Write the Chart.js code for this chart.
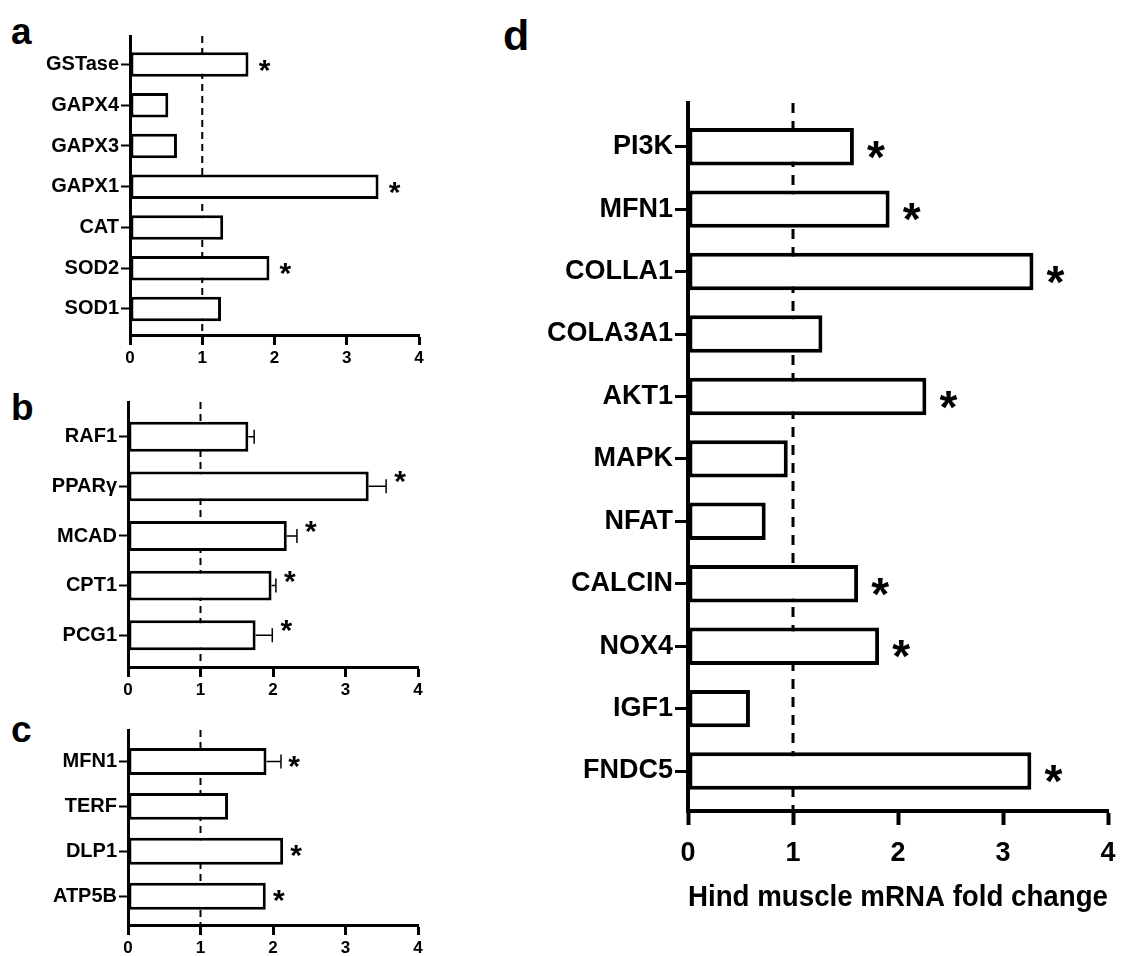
<!DOCTYPE html>
<html><head><meta charset="utf-8">
<script src="https://cdn.jsdelivr.net/npm/chart.js@4.4.1/dist/chart.umd.min.js"></script>
<style>
html,body{margin:0;padding:0;background:#fff;}
body{width:1131px;height:956px;overflow:hidden;position:relative;font-family:"Liberation Sans",Arial,sans-serif;}
canvas{position:absolute;}
.lbl{position:absolute;font-weight:bold;color:#000;line-height:1;font-family:"Liberation Sans",Arial,sans-serif;}
</style></head><body>
<div class="lbl" style="left:11px;top:13px;font-size:37px">a</div>
<div class="lbl" style="left:11px;top:389px;font-size:37px">b</div>
<div class="lbl" style="left:11px;top:711px;font-size:37px">c</div>
<div class="lbl" style="left:503px;top:14px;font-size:43px">d</div>
<canvas id="ca" width="440" height="370" style="left:0;top:0"></canvas>
<canvas id="cb" width="440" height="330" style="left:0;top:370px"></canvas>
<canvas id="cc" width="440" height="256" style="left:0;top:700px"></canvas>
<canvas id="cd" width="591" height="896" style="left:540px;top:60px"></canvas>
<script>
// ---- data ----
const xTicks = [0, 1, 2, 3, 4];
const refLine = 1;

const catsA = ['GSTase', 'GAPX4', 'GAPX3', 'GAPX1', 'CAT', 'SOD2', 'SOD1'];
const valsA = [1.64, 0.53, 0.65, 3.44, 1.29, 1.93, 1.26];
const errA  = [0, 0, 0, 0, 0, 0, 0];
const sigA  = [true, false, false, true, false, true, false];

const catsB = ['RAF1', 'PPARγ', 'MCAD', 'CPT1', 'PCG1'];
const valsB = [1.66, 3.32, 2.19, 1.98, 1.76];
const errB  = [0.08, 0.24, 0.14, 0.06, 0.23];
const sigB  = [false, true, true, true, true];

const catsC = ['MFN1', 'TERF', 'DLP1', 'ATP5B'];
const valsC = [1.91, 1.38, 2.14, 1.90];
const errC  = [0.20, 0, 0, 0];
const sigC  = [true, false, true, true];

const catsD = ['PI3K', 'MFN1', 'COLLA1', 'COLA3A1', 'AKT1', 'MAPK', 'NFAT', 'CALCIN', 'NOX4', 'IGF1', 'FNDC5'];
const valsD = [1.58, 1.92, 3.29, 1.28, 2.27, 0.95, 0.74, 1.62, 1.82, 0.59, 3.27];
const errD  = [0, 0, 0, 0, 0, 0, 0, 0, 0, 0, 0];
const sigD  = [true, true, true, false, true, false, false, true, true, false, true];
const titleD = 'Hind muscle mRNA fold change';

// ---- drawing ----
const FAM = "'Liberation Sans', Arial, sans-serif";

function makeChart(id, cats, vals, errs, sigs, st, xTitle) {
  const extras = {
    id: 'extras',
    beforeDatasetsDraw(chart) {
      const {ctx, chartArea: ca, scales: {x}} = chart;
      const px = x.getPixelForValue(refLine);
      ctx.save();
      ctx.strokeStyle = '#000';
      ctx.lineWidth = st.dashW;
      ctx.setLineDash(st.dash);
      ctx.beginPath();
      ctx.moveTo(px, ca.top);
      ctx.lineTo(px, ca.bottom);
      ctx.stroke();
      ctx.restore();
    },
    afterDatasetsDraw(chart) {
      const {ctx, scales: {x, y}} = chart;
      ctx.save();
      ctx.strokeStyle = '#000';
      ctx.fillStyle = '#000';
      ctx.lineWidth = st.errW;
      cats.forEach((c, i) => {
        const py = y.getPixelForValue(i);
        const e = errs[i] || 0;
        if (e > 0) {
          const x1 = x.getPixelForValue(vals[i]);
          const x2 = x.getPixelForValue(vals[i] + e);
          ctx.beginPath();
          ctx.moveTo(x1, py); ctx.lineTo(x2, py);
          ctx.moveTo(x2, py - st.cap); ctx.lineTo(x2, py + st.cap);
          ctx.stroke();
        }
        if (sigs[i]) {
          const xe = x.getPixelForValue(vals[i] + e);
          ctx.font = 'bold ' + st.starFs + 'px ' + FAM;
          ctx.textAlign = 'center';
          ctx.textBaseline = 'alphabetic';
          ctx.fillText('*', xe + st.starDx, py + 0.57 * st.starFs + st.starDy);
        }
      });
      ctx.restore();
    }
  };
  return new Chart(document.getElementById(id), {
    type: 'bar',
    data: {
      datasets: [{
        data: cats.map((c, i) => ({x: vals[i], y: i})),
        backgroundColor: '#ffffff',
        borderColor: '#000000',
        borderWidth: st.bw,
        borderSkipped: false,
        barPercentage: 0.6,
        categoryPercentage: 1
      }]
    },
    options: {
      indexAxis: 'y',
      responsive: false,
      animation: false,
      devicePixelRatio: 1,
      layout: {padding: {left: 0, top: st.top, right: st.right, bottom: st.bottom}},
      plugins: {legend: {display: false}, tooltip: {enabled: false}},
      scales: {
        x: {
          type: 'linear', min: xTicks[0], max: xTicks[xTicks.length - 1], offset: false,
          afterBuildTicks: s => { s.ticks = xTicks.map(v => ({value: v})); },
          grid: {display: true, offset: false, drawOnChartArea: false, drawTicks: true, tickLength: st.xtl, tickWidth: st.aw, tickColor: '#000'},
          border: {display: true, color: '#000', width: st.aw},
          ticks: {color: '#000', font: {family: FAM, weight: 'bold', size: st.xfs}, padding: st.xpad, maxRotation: 0, autoSkip: false},
          title: xTitle ? {display: true, text: xTitle, color: '#000', font: {family: FAM, weight: 'bold', size: st.tfs}, padding: {top: 4, bottom: 4}} : {display: false},
          afterFit: s => { s.height = st.xh; }
        },
        y: {
          type: 'linear', reverse: true, min: -0.7, max: cats.length - 0.36, offset: false, bounds: 'data',
          afterBuildTicks: s => { s.ticks = cats.map((c, i) => ({value: i})); },
          grid: {display: true, offset: false, drawOnChartArea: false, drawTicks: true, tickLength: st.ytl, tickWidth: st.ytw, tickColor: '#000'},
          border: {display: true, color: '#000', width: st.aw},
          ticks: {color: '#000', font: {family: FAM, weight: 'bold', size: st.yfs}, padding: 2, autoSkip: false,
                  callback: v => (cats[v] !== undefined ? cats[v] : '')},
          afterFit: s => { s.width = st.left; }
        }
      }
    },
    plugins: [extras]
  });
}

const small = {bw: 3, aw: 3, xtl: 10, ytl: 9, ytw: 2, xfs: 17, yfs: 20, xpad: 3,
  dash: [7, 5], dashW: 2, errW: 1.5, cap: 7, starFs: 30, starDx: 15, starDy: -2};

makeChart('ca', catsA, valsA, errA, sigA, Object.assign({}, small, {left: 130, top: 36, right: 21, bottom: 0, xh: 35, starDx: 16}));
makeChart('cb', catsB, valsB, errB, sigB, Object.assign({}, small, {left: 128, top: 32, right: 22, bottom: 0, xh: 33, starDx: 14, starDy: -12}));
makeChart('cc', catsC, valsC, errC, sigC, Object.assign({}, small, {left: 128, top: 30, right: 22, bottom: 0, xh: 31, starDx: 13, starDy: -3}));
makeChart('cd', catsD, valsD, errD, sigD, {bw: 4, aw: 4, xtl: 14, ytl: 13, ytw: 3, xfs: 27, yfs: 27, xpad: 12,
  dash: [10, 8], dashW: 3, errW: 2, cap: 9, starFs: 46, starDx: 22, starDy: 0,
  left: 148, top: 43, right: 23, bottom: 36, xh: 109, tfs: 29.5}, titleD);
</script>
</body></html>
